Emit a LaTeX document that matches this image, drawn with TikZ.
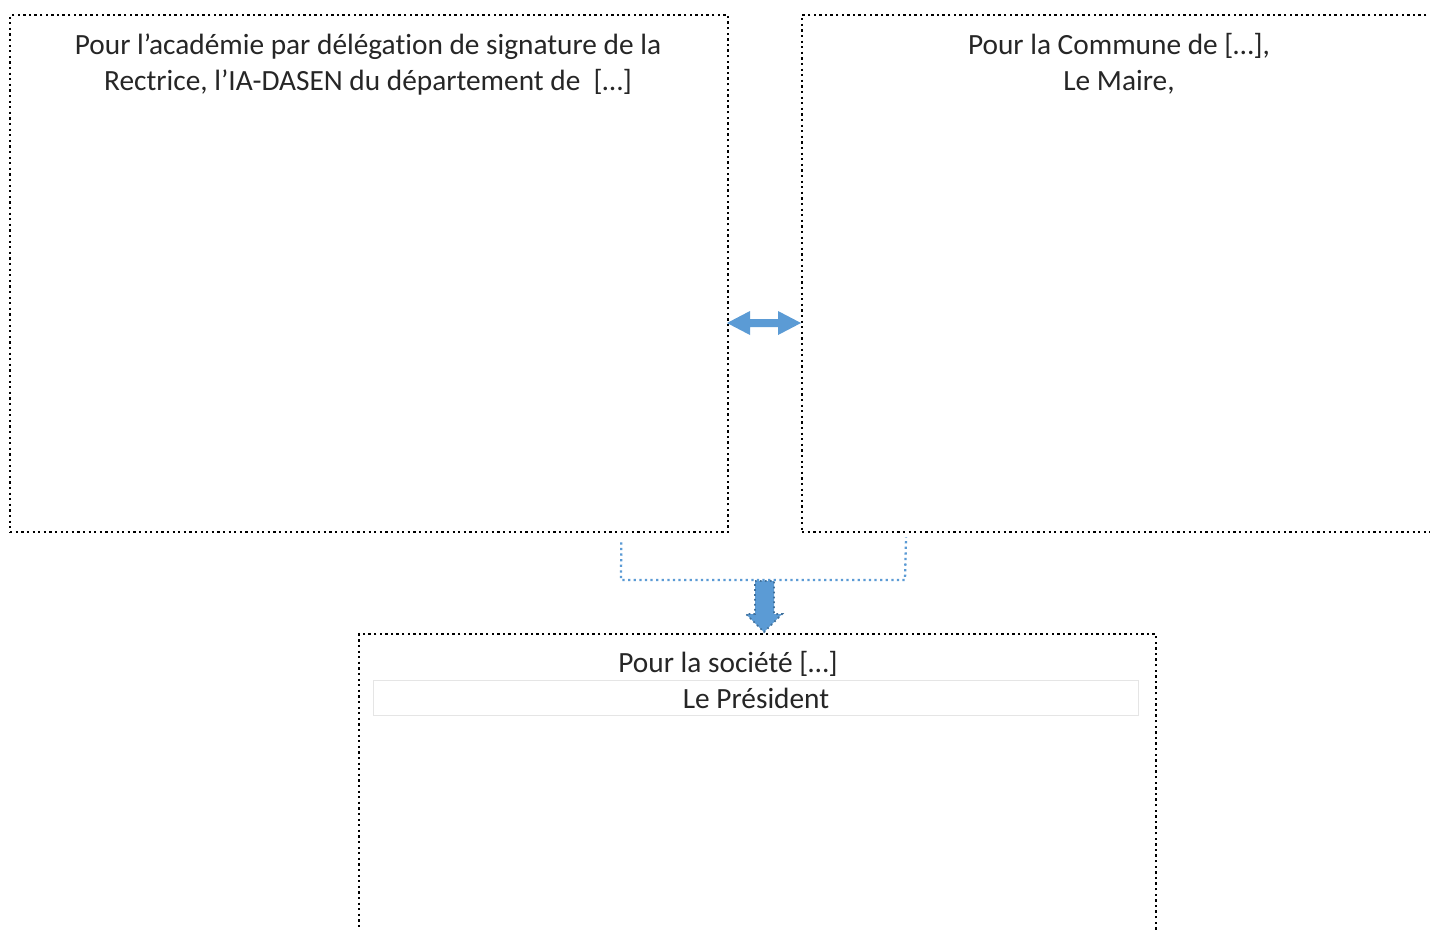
\documentclass[tikz,border=0pt]{standalone}
\usepackage{fontspec}
\setmainfont[Ligatures=NoCommon]{Carlito}
\usepackage{tikz}
\usetikzlibrary{arrows.meta}

\definecolor{officeblue}{HTML}{5B9BD5}
\definecolor{darkblue}{HTML}{41719C}
\definecolor{textgray}{HTML}{262626}

\tikzset{
  sigbox/.style={draw=black, line width=1.7pt, dash pattern=on 1.7pt off 2.5pt,
    anchor=north west, inner sep=0pt},
  sigtext/.style={font=\fontsize{22pt}{27pt}\selectfont, text=textgray,
    align=center, anchor=base, inner sep=0pt},
  bracket/.style={draw=officeblue, line width=1.7pt, dash pattern=on 1.7pt off 2.5pt}
}

\begin{document}
\begin{tikzpicture}[x=0.75pt,y=-0.75pt]
			\clip (0,0) rectangle (1430,929);
			\fill[white] (0,0) rectangle (1430,929);
			% the three signature boxes
			\node[sigbox, minimum width=718*0.75pt, minimum height=517*0.75pt] (academie) at (9,14) {};
			\node[sigbox, minimum width=636*0.75pt, minimum height=517*0.75pt] (commune) at (801,14) {};
			\node[sigbox, minimum width=797*0.75pt, minimum height=400*0.75pt] (societe) at (358,633) {};
			% faint frame round the president line
			\draw[black!10, line width=0.6pt] (373,680) rectangle (1138,715);
			% labels
			\node[sigtext] (acad1) at (368,90) {Pour l’académie par délégation de signature de la\\Rectrice, l’IA-DASEN du département de~ […]};
			\node[sigtext] (comm1) at (1119,90) {Pour la Commune de […],\\Le Maire,};
			\node[sigtext] (soc1) at (728,672) {Pour la société […]};
			\node[sigtext] (soc2) at (756,708) {Le Président};
			% two-way arrow between the boxes
			\fill[officeblue] (727,323) -- (750,311) -- (750,319) -- (778,319) -- (778,311)
				-- (801,323) -- (778,335) -- (778,327) -- (750,327) -- (750,335) -- cycle;
			% bracket joining the two upper boxes
			\coordinate (joint) at (764,580);
			\draw[bracket] ([shift={(-108,9)}]academie.south east) -- (621,580) -- (joint)
				-- (905,580) -- ([shift={(105,4)}]commune.south west);
			% arrow down to the company box
			\draw[fill=officeblue, draw=darkblue, line width=1.3pt, dash pattern=on 1.3pt off 2.4pt]
				(755,581) -- (774,581) -- (774,614) -- (782,614) -- (764,632)
				-- (746,614) -- (755,614) -- cycle;
		\end{tikzpicture}
\end{document}
